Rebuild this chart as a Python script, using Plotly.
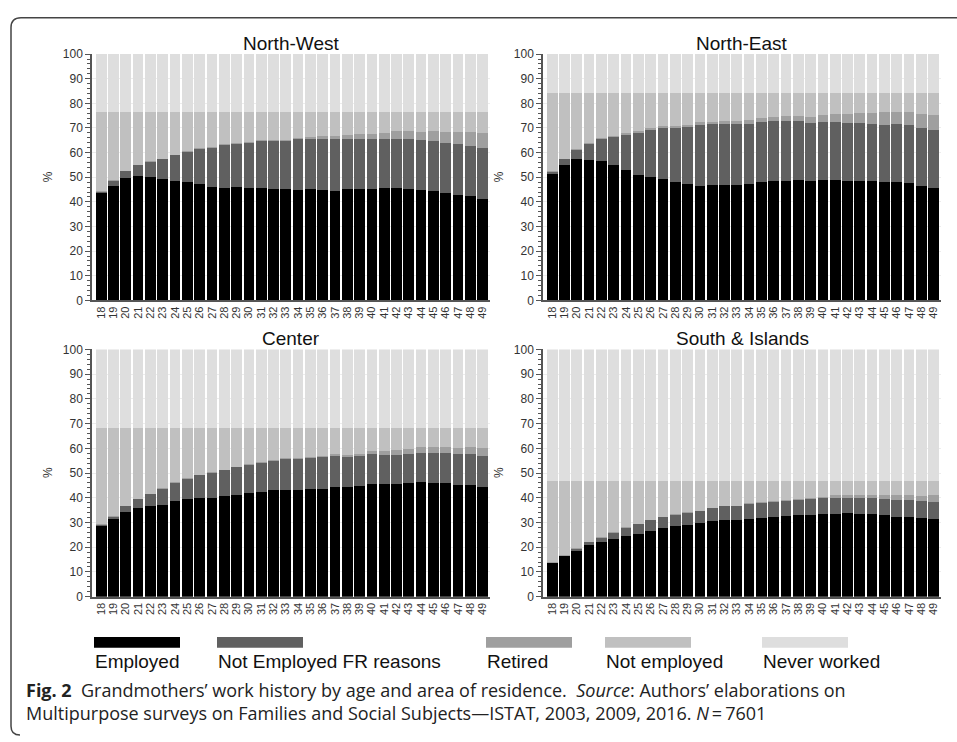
import plotly.graph_objects as go

W, H = 957, 742

ages = [str(a) for a in range(18, 50)]

categories = ["Employed", "Not Employed FR reasons", "Retired", "Not employed", "Never worked"]
colors = ["#000000", "#606060", "#9f9f9f", "#c0c0c0", "#dedede"]

regions = ["North-West", "North-East", "Center", "South & Islands"]

# ---- North-West ----
nw_employed = [43.6, 46.6, 49.7, 50.7, 50.1, 49.1, 48.3, 47.9, 47.4, 46.1, 45.8, 45.9, 45.6, 45.7, 45.4, 45.4,
               45.0, 45.3, 45.0, 44.6, 45.3, 45.3, 45.3, 45.6, 45.8, 45.3, 44.8, 44.5, 43.6, 42.9, 42.4, 41.2]
nw_notemp_fr = [0.6, 2.0, 2.8, 4.3, 6.2, 8.4, 10.7, 12.5, 14.2, 15.9, 17.3, 17.8, 18.5, 19.0, 19.4, 19.5,
                20.5, 20.3, 20.5, 20.9, 20.3, 20.2, 20.2, 20.0, 19.9, 20.2, 20.3, 20.4, 20.4, 20.4, 20.3, 20.6]
nw_retired = [0.1, 0.1, 0.1, 0.1, 0.1, 0.1, 0.1, 0.1, 0.1, 0.2, 0.2, 0.2, 0.3, 0.3, 0.4, 0.4,
              0.6, 0.9, 1.2, 1.4, 1.6, 2.0, 2.2, 2.5, 3.0, 3.3, 3.3, 3.9, 4.4, 5.0, 5.6, 6.2]
nw_notemployed = [32.3, 27.9, 24.0, 21.5, 20.2, 19.0, 17.5, 16.1, 14.9, 14.4, 13.3, 12.7, 12.2, 11.6, 11.4, 11.3,
                  10.5, 10.1, 9.9, 9.7, 9.4, 9.1, 8.9, 8.5, 7.9, 7.8, 8.2, 7.8, 8.2, 8.3, 8.3, 8.6]
nw_neverworked = [23.4] * 32

# ---- North-East ----
ne_employed = [51.3, 55.1, 57.2, 57.0, 56.7, 54.8, 53.0, 51.0, 50.2, 49.3, 48.2, 47.1, 46.6, 46.9, 46.9, 47.0,
               47.4, 48.2, 48.6, 48.6, 48.9, 48.6, 48.9, 48.9, 48.3, 48.6, 48.3, 48.1, 48.1, 47.8, 46.6, 45.7]
ne_notemp_fr = [0.9, 2.3, 3.9, 6.7, 9.0, 11.7, 14.5, 17.3, 19.1, 20.6, 21.9, 23.4, 24.7, 24.7, 24.9, 24.7,
                24.3, 24.2, 24.3, 24.4, 23.9, 23.5, 23.6, 23.6, 23.7, 23.4, 23.4, 23.3, 23.5, 23.5, 23.5, 23.6]
ne_retired = [0.2, 0.2, 0.2, 0.2, 0.3, 0.3, 0.4, 0.4, 0.6, 0.9, 0.8, 0.9, 1.1, 1.0, 1.1, 1.2,
              1.5, 1.6, 1.6, 1.9, 2.1, 2.4, 2.9, 3.3, 3.8, 4.2, 4.5, 5.0, 4.9, 5.2, 5.7, 6.1]
ne_notemployed = [31.7, 26.5, 22.8, 20.2, 18.1, 17.3, 16.2, 15.4, 14.2, 13.3, 13.2, 12.7, 11.7, 11.5, 11.2, 11.2,
                  10.9, 10.1, 9.6, 9.2, 9.2, 9.6, 8.7, 8.3, 8.3, 7.9, 7.9, 7.8, 7.6, 7.6, 8.3, 8.7]
ne_neverworked = [15.9] * 32

# ---- Center ----
ce_employed = [28.5, 31.3, 34.2, 35.9, 36.5, 37.0, 38.7, 39.5, 39.8, 40.1, 40.7, 41.0, 41.9, 42.4, 43.1, 43.1,
               43.1, 43.5, 43.6, 44.4, 44.4, 44.8, 45.6, 45.5, 45.5, 45.8, 46.3, 46.0, 45.8, 45.2, 45.0, 44.2]
ce_notemp_fr = [0.7, 1.1, 2.3, 3.6, 4.9, 6.4, 7.2, 8.2, 9.3, 10.0, 10.4, 11.3, 11.4, 11.8, 11.9, 12.5,
                12.6, 12.6, 12.9, 12.4, 12.1, 12.0, 12.0, 11.7, 11.8, 11.9, 11.9, 12.2, 12.2, 12.5, 12.6, 12.7]
ce_retired = [0.1, 0.1, 0.1, 0.1, 0.1, 0.4, 0.3, 0.2, 0.2, 0.2, 0.2, 0.2, 0.3, 0.2, 0.2, 0.3,
              0.3, 0.4, 0.4, 0.9, 0.8, 1.0, 1.2, 1.7, 1.9, 2.0, 2.4, 2.4, 2.6, 2.5, 3.0, 3.3]
ce_notemployed = [39.1, 35.9, 31.8, 28.8, 26.9, 24.6, 22.2, 20.5, 19.1, 18.1, 17.1, 15.9, 14.8, 14.0, 13.2, 12.5,
                  12.4, 11.9, 11.5, 10.7, 11.1, 10.6, 9.6, 9.5, 9.2, 8.7, 7.8, 7.8, 7.8, 8.2, 7.8, 8.2]
ce_neverworked = [31.6] * 32

# ---- South & Islands ----
so_employed = [13.5, 16.3, 18.6, 20.7, 22.0, 23.2, 24.5, 25.5, 26.7, 27.6, 28.5, 28.9, 29.8, 30.4, 30.9, 31.0,
               31.4, 31.7, 32.2, 32.5, 32.9, 33.2, 33.4, 33.6, 34.0, 33.6, 33.6, 33.0, 32.4, 32.4, 31.8, 31.6]
so_notemp_fr = [0.3, 0.3, 0.9, 1.4, 1.9, 2.7, 3.4, 3.9, 4.3, 4.6, 4.7, 5.1, 4.9, 5.4, 5.6, 5.7,
                6.1, 6.4, 6.3, 6.2, 6.4, 6.2, 6.4, 6.5, 6.1, 6.2, 6.2, 6.4, 6.7, 6.7, 6.8, 6.7]
so_retired = [0.1, 0.1, 0.1, 0.1, 0.1, 0.1, 0.1, 0.1, 0.1, 0.1, 0.1, 0.1, 0.1, 0.1, 0.1, 0.1,
              0.2, 0.2, 0.3, 0.3, 0.3, 0.4, 0.5, 1.0, 1.1, 1.2, 1.3, 1.6, 1.9, 1.9, 2.1, 2.7]
so_notemployed = [32.8, 30.0, 27.1, 24.5, 22.7, 20.7, 18.7, 17.2, 15.6, 14.4, 13.4, 12.6, 11.9, 10.8, 10.1, 9.9,
                  9.0, 8.4, 7.9, 7.7, 7.1, 6.9, 6.4, 5.6, 5.5, 5.7, 5.6, 5.7, 5.7, 5.7, 6.0, 5.7]
so_neverworked = [53.3] * 32

region_data = [
    [nw_employed, nw_notemp_fr, nw_retired, nw_notemployed, nw_neverworked],
    [ne_employed, ne_notemp_fr, ne_retired, ne_notemployed, ne_neverworked],
    [ce_employed, ce_notemp_fr, ce_retired, ce_notemployed, ce_neverworked],
    [so_employed, so_notemp_fr, so_retired, so_notemployed, so_neverworked],
]

y_ticks = list(range(0, 101, 10))


def px_x(p):
    return p / W


def px_y(p):
    return 1 - p / H


# panel pixel boxes: (left, right, top, bottom)
boxes = [(92, 490, 48, 299), (543, 941, 48, 299), (92, 490, 349, 601), (543, 941, 349, 601)]

fig = go.Figure()
for i, series in enumerate(region_data):
    ax = "" if i == 0 else str(i + 1)
    for cat, col, vals in zip(categories, colors, series):
        fig.add_trace(go.Bar(
            x=ages, y=vals, name=cat, marker=dict(color=col, line=dict(width=0)),
            xaxis="x" + ax, yaxis="y" + ax, showlegend=False,
        ))

layout = dict(
    width=W, height=H, barmode="stack", bargap=0.13,
    margin=dict(l=0, r=0, t=0, b=0),
    paper_bgcolor="white", plot_bgcolor="white",
    font=dict(family="Liberation Sans, Arial, sans-serif", color="#222"),
)
annotations = []
shapes = []
for i, (l, r, t, b) in enumerate(boxes):
    ax = "" if i == 0 else str(i + 1)
    layout["xaxis" + ax] = dict(
        domain=[px_x(l), px_x(r)], anchor="y" + ax, type="category",
        range=[-0.75, 31.6], tickangle=-90, showline=True, linecolor="#555", linewidth=1.5,
        tickmode="array", tickvals=ages, ticktext=ages,
        ticks="", tickfont=dict(size=11, color="#333"), showgrid=False, fixedrange=True,
    )
    layout["yaxis" + ax] = dict(
        domain=[px_y(b), px_y(t)], anchor="x" + ax, range=[0, 100],
        tickvals=y_ticks, ticks="outside", ticklen=5, tickcolor="#555", tickwidth=1,
        minor=dict(dtick=2, ticks="outside", ticklen=3, tickcolor="#555", showgrid=False),
        showline=True, linecolor="#555", linewidth=1.5,
        showgrid=True, gridcolor="#ededed", zeroline=False,
        tickfont=dict(size=12, color="#333"), fixedrange=True,
    )
    annotations.append(dict(
        text=regions[i], x=px_x((l + r) / 2), y=px_y(t - 11), xref="paper", yref="paper",
        showarrow=False, xanchor="center", yanchor="middle",
        font=dict(size=19, color="#111"),
    ))
    annotations.append(dict(
        text="%", x=px_x(l - 44), y=px_y((t + b) / 2), xref="paper", yref="paper",
        showarrow=False, xanchor="center", yanchor="middle", textangle=-90,
        font=dict(size=12, color="#333"),
    ))

# legend (custom: swatch above label)
leg_x = [94, 217, 486, 605, 762]
leg_w = 86
for cat, col, lx in zip(categories, colors, leg_x):
    shapes.append(dict(type="rect", xref="paper", yref="paper",
                       x0=px_x(lx), x1=px_x(lx + leg_w), y0=px_y(653), y1=px_y(642),
                       fillcolor=col, line=dict(width=0)))
    annotations.append(dict(text=cat, x=px_x(lx - 1), y=px_y(667), xref="paper", yref="paper",
                            showarrow=False, xanchor="left", yanchor="middle",
                            font=dict(size=19, color="#111")))

# caption (two lines in one text block)
cap_font = dict(family="Open Sans, Noto Sans, sans-serif", size=18, color="#222")
annotations.append(dict(
    text="<b>Fig. 2</b>&nbsp; Grandmothers’ work history by age and area of residence.&nbsp; "
         "<i>Source</i>: Authors’ elaborations on<br>"
         "Multipurpose surveys on Families and Social Subjects—ISTAT, 2003, 2009, 2016. <i>N</i>\u2009=\u20097601",
    x=px_x(24), y=px_y(708), xref="paper", yref="paper", showarrow=False, align="left",
    xanchor="left", yanchor="middle", font=cap_font))

# frame with rounded corner
path = (f"M {px_x(957)},{px_y(11)} L {px_x(21)},{px_y(11)} "
        f"Q {px_x(11)},{px_y(11)} {px_x(11)},{px_y(21)} "
        f"L {px_x(11)},{px_y(733)} Q {px_x(11)},{px_y(742)} {px_x(20)},{px_y(742)}")
shapes.append(dict(type="path", xref="paper", yref="paper", path=path,
                   line=dict(color="#444", width=1.5)))

layout["annotations"] = annotations
layout["shapes"] = shapes
fig.update_layout(**layout)

fig.write_html("out.html", config={"displayModeBar": False},
               post_script="document.body.style.margin='0';document.body.style.overflow='hidden';")
